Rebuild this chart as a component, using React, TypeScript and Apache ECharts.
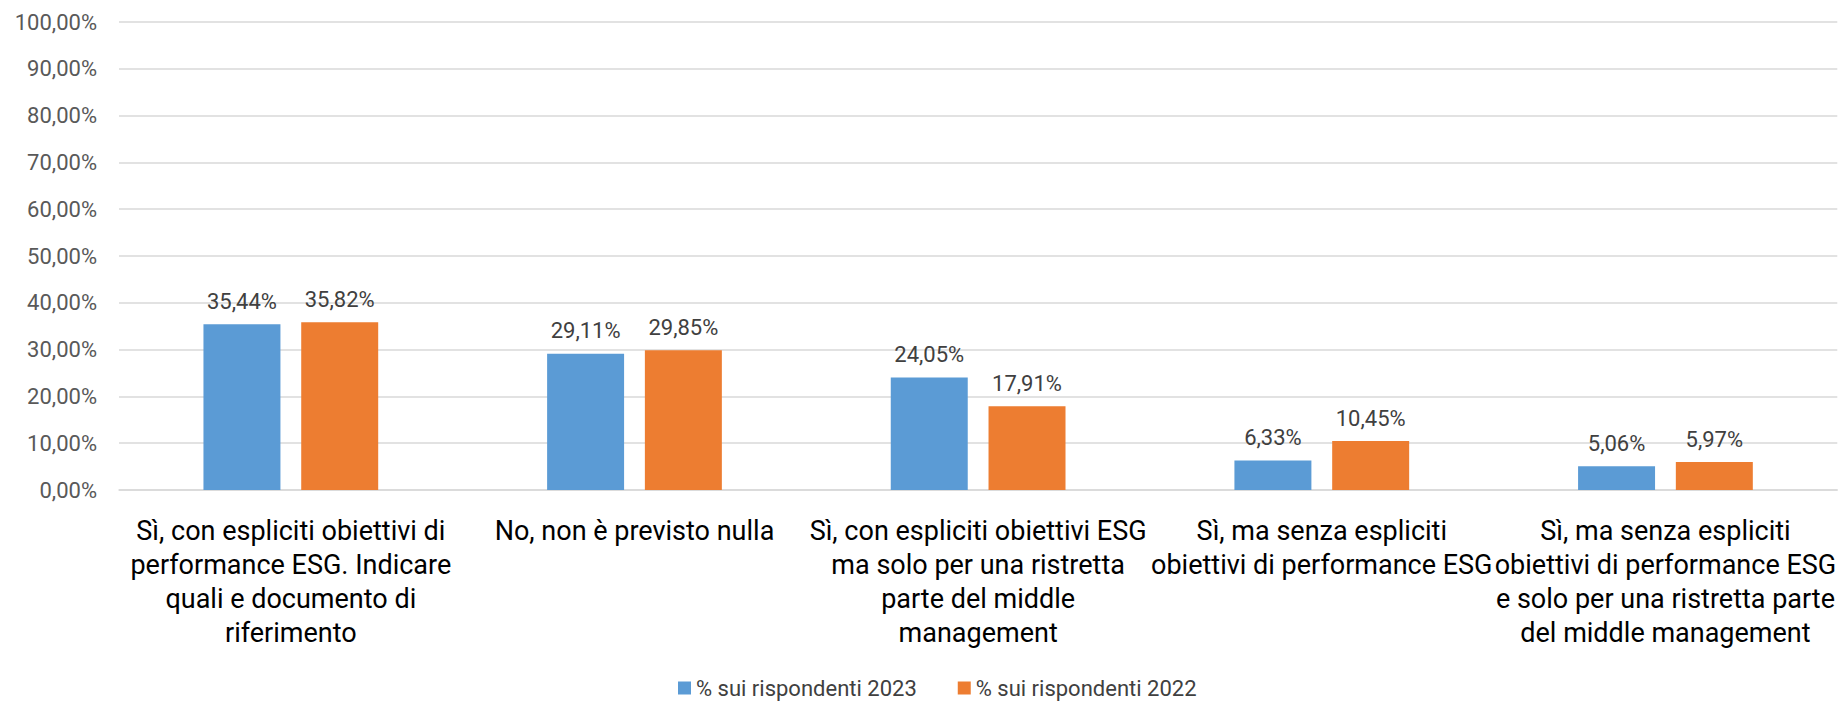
import React, { useEffect, useRef } from "react";
import * as echarts from "echarts";

const categories = [
  "Sì, con espliciti obiettivi di\nperformance ESG. Indicare\nquali e documento di\nriferimento",
  "No, non è previsto nulla",
  "Sì, con espliciti obiettivi ESG\nma solo per una ristretta\nparte del middle\nmanagement",
  "Sì, ma senza espliciti\nobiettivi di performance ESG",
  "Sì, ma senza espliciti\nobiettivi di performance ESG\ne solo per una ristretta parte\ndel middle management",
];
const series2023 = [35.44, 29.11, 24.05, 6.33, 5.06];
const series2022 = [35.82, 29.85, 17.91, 10.45, 5.97];
const seriesNames = ["% sui rispondenti 2023", "% sui rispondenti 2022"];

const FONT = "Roboto, 'Noto Sans', sans-serif";
const fmt = (v: number) => v.toFixed(2).replace(".", ",") + "%";

export default function App() {
  const ref = useRef<HTMLDivElement>(null);
  useEffect(() => {
    document.body.style.margin = "0";
    const chart = echarts.init(ref.current!, null, { renderer: "svg" });
    const labelOpt = {
      show: true,
      position: "top" as const,
      distance: 12,
      color: "#404040",
      fontSize: 22,
      fontFamily: FONT,
      formatter: (p: any) => fmt(p.value),
    };
    chart.setOption({
      animation: false,
      textStyle: { fontFamily: FONT },
      grid: { left: 119, right: 0, top: 22, bottom: 211, containLabel: false },
      legend: {
        left: 678,
        top: 677,
        padding: 0,
        itemWidth: 13,
        itemHeight: 13,
        itemGap: 41,
        icon: "rect",
        textStyle: { fontSize: 22, lineHeight: 22, color: "#404040", fontFamily: FONT },
        data: seriesNames,
      },
      xAxis: {
        type: "category",
        data: categories,
        axisTick: { show: false },
        axisLine: { lineStyle: { color: "#d9d9d9", width: 1.5 } },
        axisLabel: {
          interval: 0,
          margin: 24,
          fontSize: 27,
          lineHeight: 34,
          color: "#000000",
          fontFamily: FONT,
          align: "center",
        },
      },
      yAxis: {
        type: "value",
        min: 0,
        max: 100,
        interval: 10,
        axisLine: { show: false },
        axisTick: { show: false },
        splitLine: { lineStyle: { color: "#d9d9d9", width: 1.5 } },
        axisLabel: {
          margin: 22,
          fontSize: 22,
          color: "#595959",
          fontFamily: FONT,
          formatter: (v: number) => fmt(v),
        },
      },
      series: [
        {
          name: seriesNames[0],
          type: "bar",
          data: series2023,
          barWidth: "22.4%",
          barGap: "27%",
          itemStyle: { color: "#5B9BD5" },
          label: labelOpt,
        },
        {
          name: seriesNames[1],
          type: "bar",
          data: series2022,
          barWidth: "22.4%",
          barGap: "27%",
          itemStyle: { color: "#ED7D31" },
          label: labelOpt,
        },
      ],
    });
    return () => chart.dispose();
  }, []);
  return <div ref={ref} style={{ width: 1839, height: 701 }} />;
}
